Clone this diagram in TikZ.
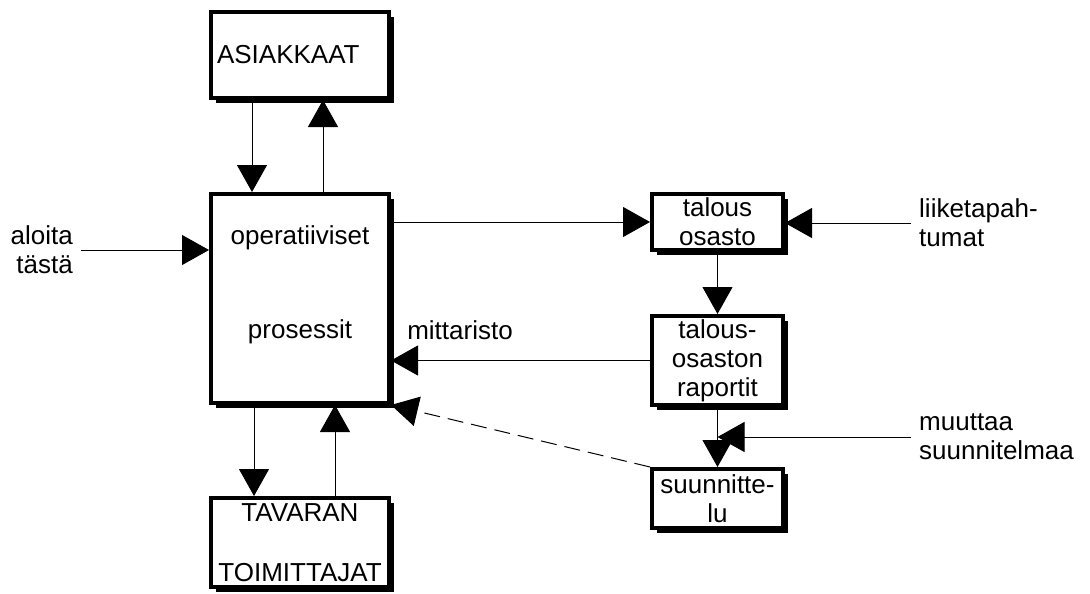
\documentclass[tikz,border=0pt]{standalone}
\usepackage{fontspec}
\setmainfont{Liberation Sans}
\usetikzlibrary{arrows.meta,shadows}
\newcommand\diagfont{\fontsize{26}{29}\selectfont}
\begin{document}
\begin{tikzpicture}[x=1pt,y=-1pt,
  font=\diagfont,
  box/.style={draw, line width=4pt, fill=white, inner sep=0pt, align=center,
    drop shadow={shadow xshift=5pt, shadow yshift=-5pt, fill=black, opacity=1}},
  txt/.style={inner sep=0pt},
  arr/.style={-{Triangle[length=27pt,width=30pt]}, line width=1pt},
  dasharr/.style={arr, dash pattern=on 16pt off 8pt}]
\useasboundingbox (0,0) rectangle (1090,594);

% boxes on the left
\node[box, minimum width=178pt, minimum height=86pt, text width=166pt,
      inner xsep=6pt, align=left] (asiakkaat) at (300,55) {ASIAKKAAT};
\node[box, minimum width=178pt, minimum height=209pt] (oper) at (300,298.5) {};
\node[txt] (opt1) at (300,238) {operatiiviset};
\node[txt] (opt2) at (300,332) {prosessit};
\node[box, minimum width=178pt, minimum height=89pt] (tavaran) at (300,542.5)
  {TAVARAN\\[31pt]TOIMITTAJAT};

% boxes on the right
\node[box, minimum width=131pt, minimum height=56pt] (talous) at (717.5,222)
  {talous\\osasto};
\node[box, minimum width=131pt, minimum height=89pt] (raportit) at (717.5,360.5)
  {talous-\\osaston\\raportit};
\node[box, minimum width=131pt, minimum height=59pt] (suunn) at (717.5,498.5)
  {suunnitte-\\lu};

% free labels
\node[txt, align=right, anchor=east, inner xsep=8pt] (aloita) at (81,250)
  {aloita\\tästä};
\node[txt, align=left, anchor=west, inner xsep=8pt] (liike) at (911,223)
  {liiketapah-\\tumat};
\node[txt, align=left, anchor=west, inner xsep=8pt] (muuttaa) at (911,437)
  {muuttaa\\suunnitelmaa};
\node[txt] (mitt) at (460,330) {mittaristo};

% connectors
\draw[arr] ([xshift=-48pt]asiakkaat.south) -- ([xshift=-48pt]oper.north);
\draw[arr] ([xshift=23pt]oper.north) -- ([xshift=23pt]asiakkaat.south);
\draw[arr] ([xshift=-46pt]oper.south) -- ([xshift=-46pt]tavaran.north);
\draw[arr] ([xshift=35pt]tavaran.north) -- ([xshift=35pt]oper.south);
\draw[arr] (aloita.east) -- (aloita.east -| oper.west);
\draw[arr] (oper.east |- talous.west) -- (talous.west);
\draw[arr] (liike.west) -- (liike.west -| talous.east);
\draw[arr] (talous.south) -- (raportit.north);
\draw[arr] (raportit.west) -- (raportit.west -| oper.east);
\draw[arr] (raportit.south) -- (suunn.north);
\draw[arr] (muuttaa.west) -- (muuttaa.west -| raportit.south);
\draw[dasharr] (suunn.north west) -- (oper.south east);
\end{tikzpicture}
\end{document}
